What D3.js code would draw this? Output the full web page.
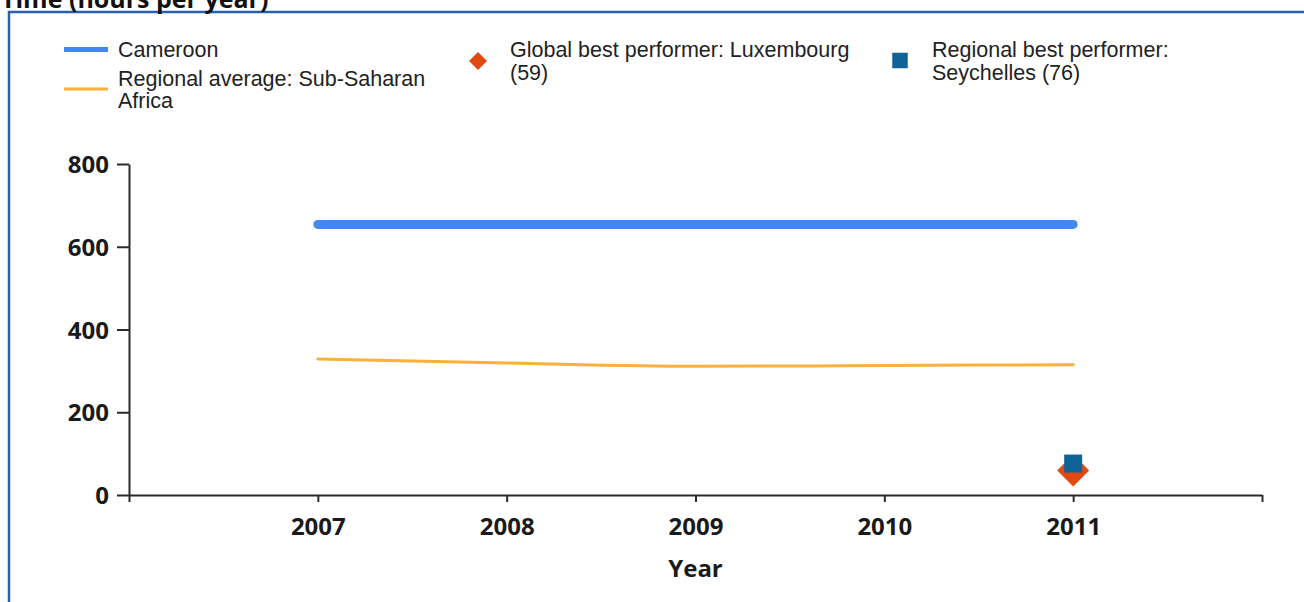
<!DOCTYPE html>
<html>
<head>
<meta charset="utf-8">
<script src="https://cdn.jsdelivr.net/npm/d3@7"></script>
<style>
  body { margin: 0; background: #fff; }
  .legend text { font-family: "Liberation Sans", Arial, sans-serif; font-size: 21.5px; fill: #222; }
  .axis text { font-family: "Open Sans", sans-serif; font-weight: 700; font-size: 24px; fill: #1a1a1a; }
</style>
</head>
<body>
<svg id="chart" width="1304" height="602"></svg>
<script>
// values
var years = [2007, 2008, 2009, 2010, 2011];
var cameroon = [654, 654, 654, 654, 654];
var regionalAvg = [329, 319, 311, 313, 315];
var globalBest = [{year: 2011, value: 59}];
var regionalBest = [{year: 2011, value: 76}];
var yTicks = [0, 200, 400, 600, 800];
var xTicks = [2006, 2007, 2008, 2009, 2010, 2011, 2012];

var svg = d3.select('#chart');

var x = d3.scaleLinear().domain([2006, 2012]).range([129, 1262]);
var y = d3.scaleLinear().domain([0, 800]).range([495, 164]);

// frame and the title, which is cut off at the top like in the original
svg.append("path")
    .attr("d", "M9,602 V12 H1304")
    .attr("fill", "none")
    .attr("stroke", "#2a62aa")
    .attr("stroke-width", 2.5);

svg.append("text")
    .attr("x", 1)
    .attr("y", 8)
    .style("font-family", "'Open Sans', sans-serif")
    .style("font-weight", 700)
    .style("font-size", "25px")
    .attr("fill", "#111")
    .text("Time (hours per year)");

// axes
var yAxis = d3.axisLeft(y).tickValues(yTicks).tickSize(12).tickPadding(8).tickSizeOuter(0);
var xAxis = d3.axisBottom(x).tickValues(xTicks).tickSize(7).tickPadding(16).tickSizeOuter(0)
    .tickFormat(function (d) { return (d === 2006 || d === 2012) ? "" : d; });

var gy = svg.append("g").attr("class", "axis").attr("transform", "translate(129,0)").call(yAxis);
var gx = svg.append("g").attr("class", "axis").attr("transform", "translate(0,495)").call(xAxis);
svg.selectAll(".axis path, .axis line").attr("stroke", "#2b2b2b").attr("stroke-width", 2);
svg.selectAll(".axis text").attr("fill", "#1a1a1a");
gy.selectAll(".tick text").attr("dy", "0.36em");

svg.append("text")
    .attr("class", "axis")
    .attr("x", x(2009))
    .attr("y", 577)
    .style("text-anchor", "middle")
    .style("font-family", "'Open Sans', sans-serif")
    .style("font-weight", 700)
    .style("font-size", "24px")
    .attr("fill", "#1a1a1a")
    .text("Year");

// series lines
var line = d3.line()
    .x(function (d, i) { return x(years[i]); })
    .y(function (d) { return y(d); })
    .curve(d3.curveMonotoneX);

svg.append("path")
    .datum(regionalAvg)
    .attr("d", line)
    .attr("fill", "none")
    .attr("stroke", "#f9b03c")
    .attr("stroke-width", 3)
    .attr("stroke-linecap", "round");

svg.append("path")
    .datum(cameroon)
    .attr("d", line)
    .attr("fill", "none")
    .attr("stroke", "#4189ee")
    .attr("stroke-width", 9)
    .attr("stroke-linecap", "round");

// best performer markers
svg.selectAll(".gbest")
    .data(globalBest)
    .enter().append("path")
    .attr("class", "gbest")
    .attr("d", d3.symbol().type(d3.symbolSquare).size(512))
    .attr("transform", function (d) { return "translate(" + x(d.year) + "," + y(d.value) + ") rotate(45)"; })
    .attr("fill", "#e2490f");

svg.selectAll(".rbest")
    .data(regionalBest)
    .enter().append("path")
    .attr("class", "rbest")
    .attr("d", d3.symbol().type(d3.symbolSquare).size(324))
    .attr("transform", function (d) { return "translate(" + x(d.year) + "," + y(d.value) + ")"; })
    .attr("fill", "#0f6396");

// legend
var lg = svg.append("g").attr("class", "legend");

lg.append("line").attr("x1", 64).attr("x2", 108).attr("y1", 49.5).attr("y2", 49.5)
    .attr("stroke", "#4189ee").attr("stroke-width", 5);
lg.append("text").attr("x", 118).attr("y", 57).text("Cameroon");

lg.append("line").attr("x1", 64).attr("x2", 108).attr("y1", 89).attr("y2", 89)
    .attr("stroke", "#f9b03c").attr("stroke-width", 3);
lg.append("text").attr("x", 118).attr("y", 86).text("Regional average: Sub-Saharan");
lg.append("text").attr("x", 118).attr("y", 108).text("Africa");

lg.append("path")
    .attr("d", d3.symbol().type(d3.symbolSquare).size(162))
    .attr("transform", "translate(478,61) rotate(45)")
    .attr("fill", "#e2490f");
lg.append("text").attr("x", 510).attr("y", 57).text("Global best performer: Luxembourg");
lg.append("text").attr("x", 510).attr("y", 80).text("(59)");

lg.append("path")
    .attr("d", d3.symbol().type(d3.symbolSquare).size(240))
    .attr("transform", "translate(900,60.5)")
    .attr("fill", "#0f6396");
lg.append("text").attr("x", 932).attr("y", 57).text("Regional best performer:");
lg.append("text").attr("x", 932).attr("y", 80).text("Seychelles (76)");
</script>
</body>
</html>
